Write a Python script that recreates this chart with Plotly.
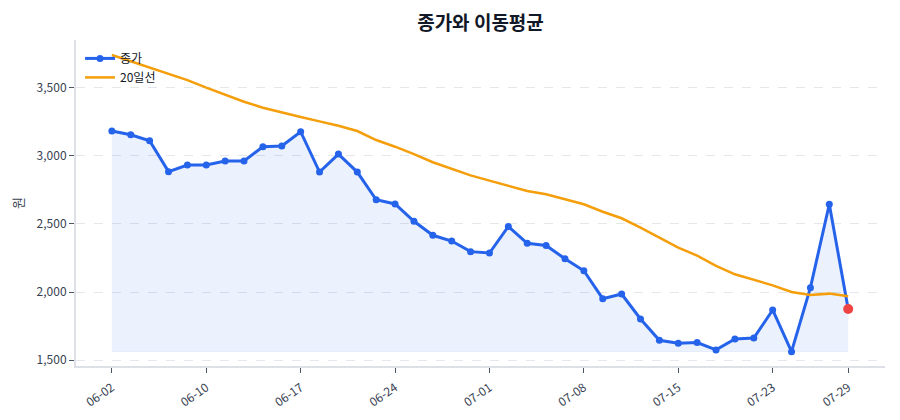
import plotly.graph_objects as go

dates = ["06-02", "06-03", "06-04", "06-05", "06-09", "06-10", "06-11", "06-12", "06-13", "06-16",
         "06-17", "06-18", "06-19", "06-20", "06-23", "06-24", "06-25", "06-26", "06-27", "06-30",
         "07-01", "07-02", "07-03", "07-04", "07-07", "07-08", "07-09", "07-10", "07-11", "07-14",
         "07-15", "07-16", "07-18", "07-21", "07-22", "07-23", "07-24", "07-25", "07-28", "07-29"]

close = [3182, 3155, 3111, 2884, 2933, 2933, 2962, 2962, 3067, 3072,
         3177, 2881, 3013, 2881, 2678, 2647, 2520, 2417, 2375, 2297,
         2287, 2482, 2358, 2342, 2245, 2157, 1952, 1986, 1803, 1647,
         1625, 1630, 1576, 1656, 1663, 1869, 1563, 2033, 2645, 1876]

ma20 = [3740, 3694, 3650, 3606, 3556, 3500, 3446, 3397, 3353, 3317,
        3285, 3253, 3221, 3182, 3116, 3067, 3013, 2953, 2903, 2857,
        2818, 2779, 2742, 2718, 2683, 2645, 2590, 2542, 2473, 2400,
        2326, 2268, 2192, 2131, 2089, 2050, 2001, 1979, 1989, 1970]

tick_dates = ["06-02", "06-10", "06-17", "06-24", "07-01", "07-08", "07-15", "07-23", "07-29"]

BLUE = "#2563eb"
ORANGE = "#f59e0b"
RED = "#ef4444"
FONT = "Noto Sans CJK KR, Noto Sans, sans-serif"

fig = go.Figure()

# area under the close line, down to the lowest close
base = [min(close)] * len(close)
fig.add_trace(go.Scatter(x=dates, y=base, mode="lines",
                         line=dict(width=1, color="rgba(37,99,235,0.06)"),
                         showlegend=False, hoverinfo="skip"))
fig.add_trace(go.Scatter(x=dates, y=close, mode="lines", fill="tonexty",
                         fillcolor="rgba(37,99,235,0.09)",
                         line=dict(width=0, color="rgba(0,0,0,0)"),
                         showlegend=False, hoverinfo="skip"))

fig.add_trace(go.Scatter(x=dates, y=close, mode="lines+markers", name="종가",
                         line=dict(color=BLUE, width=3),
                         marker=dict(color=BLUE, size=7)))
fig.add_trace(go.Scatter(x=dates, y=ma20, mode="lines", name="20일선",
                         line=dict(color=ORANGE, width=2.5)))
fig.add_trace(go.Scatter(x=[dates[-1]], y=[close[-1]], mode="markers",
                         marker=dict(color=RED, size=10),
                         showlegend=False))

# page body has an 8px margin, so the figure is sized to fit the window
fig.update_layout(
    width=892, height=412,
    margin=dict(l=68, r=15, t=32, b=54),
    paper_bgcolor="white", plot_bgcolor="white",
    font=dict(family=FONT, size=12, color="#374151"),
    title=dict(text="<b>종가와 이동평균</b>", x=0.5, xref="paper", y=1 - 15 / 412, yref="container",
               xanchor="center", yanchor="middle",
               font=dict(size=19, color="#111827")),
    legend=dict(x=0.005, y=0.988, xanchor="left", yanchor="top", traceorder="normal",
                bgcolor="rgba(255,255,255,0)", font=dict(size=12, color="#111827"),
                tracegroupgap=0),
)

fig.update_xaxes(type="category", range=[-1.9, 40.95], automargin=False,
                 tickmode="array", tickvals=tick_dates, ticktext=tick_dates,
                 tickangle=-35, showgrid=False, ticklabelstandoff=3,
                 showline=True, linecolor="#dde1e7", linewidth=2,
                 ticks="outside", ticklen=5, tickcolor="#4b5563",
                 tickfont=dict(size=12, color="#374151"))
fig.update_yaxes(range=[1458, 3850], tickvals=[1500, 2000, 2500, 3000, 3500],
                 automargin=False,
                 tickformat=",", showgrid=True, gridcolor="#e5e7eb", griddash="dash",
                 showline=True, linecolor="#dde1e7", linewidth=2,
                 ticks="outside", ticklen=5, tickcolor="#4b5563",
                 zeroline=False,
                 title=dict(text="원", font=dict(size=13, color="#374151"), standoff=12),
                 tickfont=dict(size=12, color="#374151"))

fig.write_html("out.html")
